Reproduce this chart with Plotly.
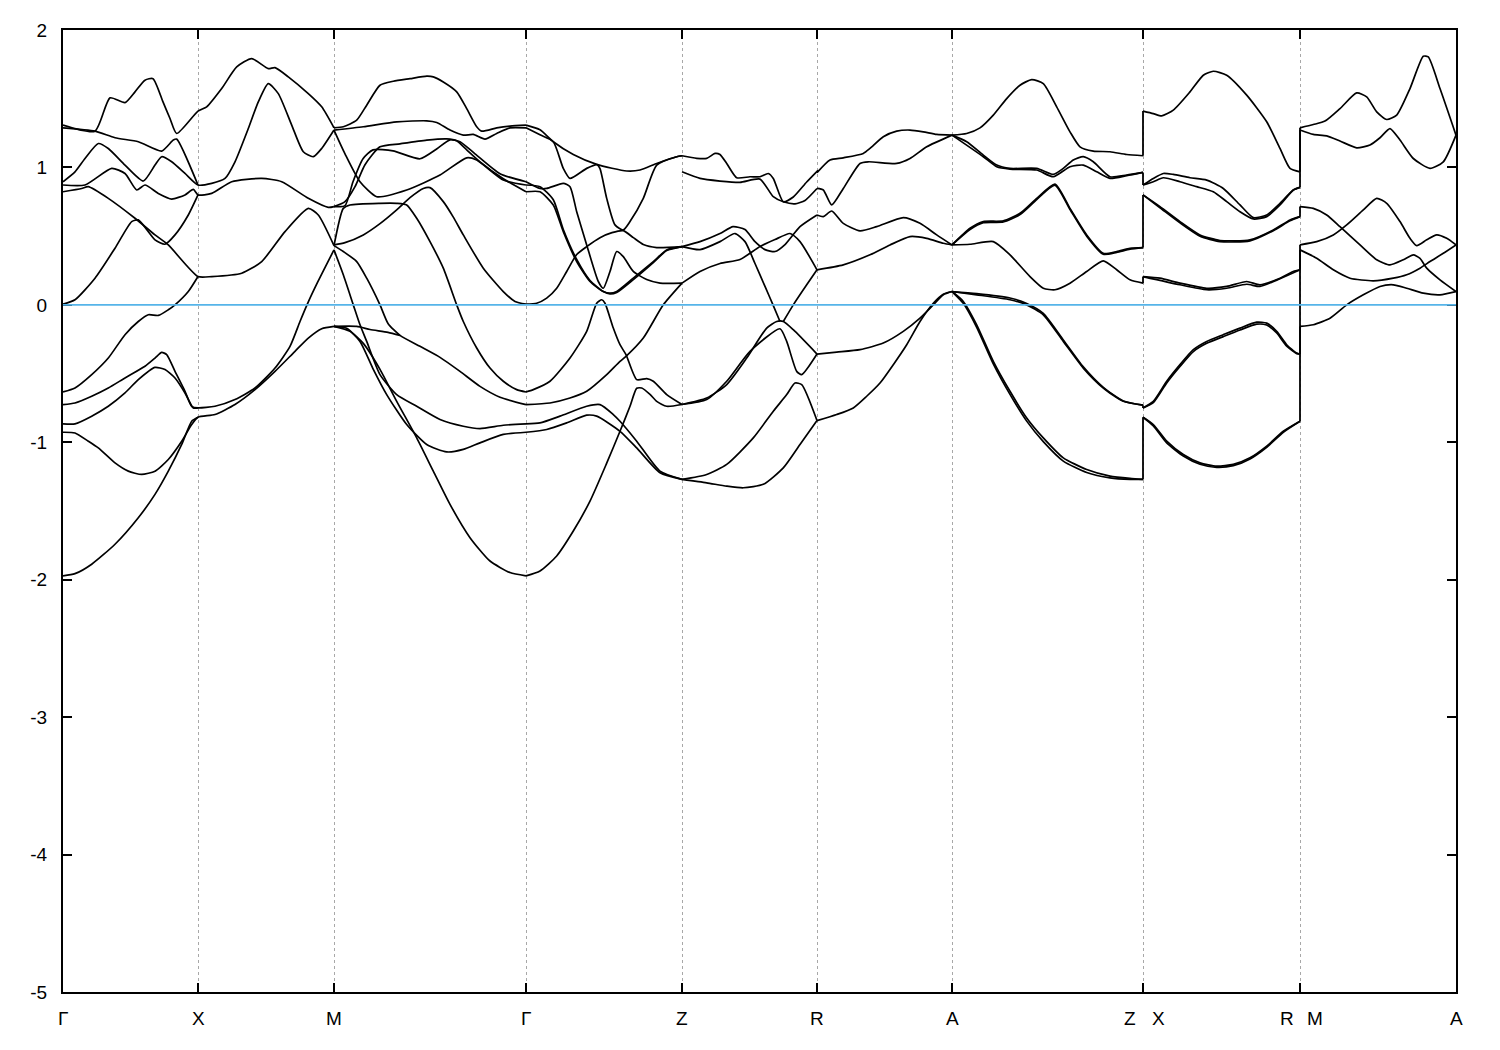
import plotly.graph_objects as go

# ---------------- high-symmetry points (path distance, arbitrary units) ----------------
hs_k = [0, 135, 271, 463, 619, 754, 889, 1080, 1237, 1393]
hs_labels = ["Γ", "X", "M", "Γ", "Z", "R", "A", "Z|X", "R|M", "A"]
y_ticks = [-5, -4, -3, -2, -1, 0, 1, 2]
fermi_level = 0.0

# ---------------- band strands (k, E in eV) ----------------
# Gamma - X - M
k_s1 = [0, 32, 47, 62, 72, 82, 90, 100, 107, 113.7, 135, 143.7, 158.7, 173.7, 188.7, 205.3, 212, 225.3, 245.3, 258.7, 271]
e_s1 = [1.308, 1.264, 1.506, 1.472, 1.550, 1.635, 1.646, 1.477, 1.356, 1.247, 1.410, 1.441, 1.574, 1.731, 1.792, 1.719, 1.726, 1.659, 1.537, 1.441, 1.288]
k_s2 = [0, 32, 52, 75.3, 98.7, 110.3, 113.7, 135]
e_s2 = [1.288, 1.264, 1.216, 1.187, 1.119, 1.199, 1.206, 0.872]
k_s3 = [0, 12, 22, 35.3, 45.3, 62, 80.3, 92, 98.7, 108.7, 122, 135, 148.7, 162, 172, 185.3, 195.3, 205.3, 215.3, 228.7, 240.3, 250.3, 258.7, 271]
e_s3 = [0.896, 0.968, 1.065, 1.174, 1.138, 1.017, 0.901, 1.017, 1.078, 1.041, 0.956, 0.872, 0.884, 0.920, 1.041, 1.283, 1.477, 1.610, 1.537, 1.308, 1.114, 1.078, 1.138, 1.272]
k_s4 = [0, 22, 48.7, 62, 73.7, 82, 95.3, 108.7, 122, 130.3, 135, 148.7, 168.7, 198.7, 218.7, 245.3, 265.3, 271]
e_s4 = [0.872, 0.872, 0.993, 0.956, 0.836, 0.872, 0.811, 0.770, 0.800, 0.840, 0.800, 0.811, 0.896, 0.920, 0.896, 0.775, 0.709, 0.715]
k_s5 = [0, 18.7, 25.3, 45.3, 72, 92, 105.3, 135, 148.7, 178.7, 198.7, 222, 245.3, 255.3, 271]
e_s5 = [0.823, 0.847, 0.860, 0.775, 0.630, 0.509, 0.436, 0.206, 0.206, 0.230, 0.315, 0.533, 0.702, 0.654, 0.431]
k_s6 = [0, 12, 32, 52, 68.7, 75.3, 92, 102, 112, 125.3, 135]
e_s6 = [0.005, 0.037, 0.194, 0.412, 0.606, 0.618, 0.473, 0.441, 0.509, 0.654, 0.800]
k_s7 = [0, 12, 28.7, 45.3, 62, 75.3, 85.3, 95.3, 105.3, 112, 125.3, 135]
e_s7 = [-0.634, -0.605, -0.508, -0.387, -0.217, -0.121, -0.072, -0.077, -0.036, 0.0, 0.097, 0.206]
k_s8 = [0, 12, 28.7, 45.3, 62, 82, 92, 98.7, 103.7, 112, 122, 128.7, 135, 152, 172, 192, 212, 227, 237, 244, 255, 271]
e_s8 = [-0.726, -0.714, -0.665, -0.605, -0.532, -0.447, -0.387, -0.346, -0.362, -0.484, -0.629, -0.738, -0.750, -0.738, -0.689, -0.605, -0.460, -0.302, -0.121, 0.0, 0.170, 0.400]
k_s9 = [0, 12, 28.7, 45.3, 62, 75.3, 92, 102, 112, 122, 130.3, 135]
e_s9 = [-0.866, -0.866, -0.810, -0.738, -0.641, -0.544, -0.455, -0.471, -0.532, -0.641, -0.750, -0.750]
k_s10 = [0, 12, 25.3, 35.3, 52, 65.3, 78.7, 92, 105.3, 118.7, 128.7, 135, 152, 172, 192, 212, 232, 245.3, 258.7, 271]
e_s10 = [-0.927, -0.932, -0.992, -1.041, -1.150, -1.210, -1.234, -1.210, -1.125, -0.992, -0.871, -0.818, -0.798, -0.725, -0.617, -0.484, -0.338, -0.242, -0.174, -0.157]
k_s11 = [0, 12, 28.7, 52, 75.3, 92, 105.3, 118.7, 128.7, 135]
e_s11 = [-1.972, -1.956, -1.887, -1.742, -1.549, -1.379, -1.210, -1.016, -0.847, -0.818]

# M - Gamma
k_m1 = [271, 280.3, 293.7, 303.7, 317, 330.3, 347, 363.7, 370.3, 380.3, 393.7, 403.7, 413.7, 418.7, 433.7, 447, 463]
e_m1 = [1.288, 1.296, 1.344, 1.453, 1.598, 1.627, 1.646, 1.664, 1.659, 1.622, 1.550, 1.428, 1.296, 1.264, 1.288, 1.301, 1.308]
k_m2 = [271, 300.3, 333.7, 363.7, 373.7, 387, 400.3, 410.3, 422, 433.7, 447, 463]
e_m2 = [1.272, 1.296, 1.332, 1.339, 1.327, 1.272, 1.235, 1.240, 1.206, 1.247, 1.288, 1.288]
k_m3 = [271, 282, 297, 313.7, 343.7, 377, 403.7, 413.7, 440.3, 463]
e_m3 = [1.272, 1.099, 0.896, 0.787, 0.836, 0.945, 1.070, 1.054, 0.908, 0.872]
k_m4 = [271, 282, 290, 300, 310, 330, 357, 374, 387, 397, 412, 437, 463]
e_m4 = [0.715, 0.722, 0.896, 1.063, 1.128, 1.121, 1.063, 1.136, 1.201, 1.187, 1.099, 0.954, 0.896]
k_m5 = [271, 282, 292, 302, 317, 337, 363.7, 383.7, 393.7, 403.7, 417, 440.3, 463]
e_m5 = [0.715, 0.751, 0.860, 1.020, 1.150, 1.172, 1.199, 1.208, 1.194, 1.128, 1.041, 0.918, 0.823]
k_m6 = [271, 282, 300.3, 317, 333.7, 347, 360.3, 367, 380.3, 390, 400.3, 420.3, 440.3, 452, 463]
e_m6 = [0.437, 0.453, 0.509, 0.591, 0.691, 0.780, 0.847, 0.853, 0.751, 0.642, 0.509, 0.267, 0.097, 0.025, 0.005]
k_m7 = [271, 280.3, 287, 317, 333.7, 343.7, 353.7, 367, 380.3, 393.7, 400.3, 413.7, 427, 440.3, 453.7, 463]
e_m7 = [0.431, 0.702, 0.727, 0.739, 0.739, 0.727, 0.630, 0.460, 0.267, 0.0, -0.121, -0.314, -0.460, -0.556, -0.617, -0.634]
k_ma = [271, 287, 300.3, 317, 333.7, 353.7, 370.3, 387, 407, 427, 447, 463]
e_ma = [-0.157, -0.193, -0.280, -0.469, -0.702, -0.968, -1.210, -1.452, -1.694, -1.864, -1.948, -1.972]
k_mb = [271, 283.7, 297, 310.3, 323.7, 343.7, 363.7, 383.7, 400.3, 417, 440.3, 463]
e_mb = [-0.157, -0.171, -0.266, -0.469, -0.653, -0.871, -1.016, -1.070, -1.052, -1.004, -0.943, -0.927]
k_mc = [271, 280.3, 290.3, 297, 303.7, 317, 333.7, 353.7, 377, 400.3, 417, 440.3, 463]
e_mc = [0.400, 0.219, 0.0, -0.145, -0.266, -0.508, -0.653, -0.738, -0.834, -0.883, -0.900, -0.876, -0.866]
k_md = [271, 280.3, 293.7, 303.7, 317, 325, 337, 357, 377, 397, 417, 437, 463]
e_md = [0.431, 0.388, 0.315, 0.194, 0.0, -0.135, -0.222, -0.302, -0.382, -0.484, -0.593, -0.672, -0.726]
k_me = [271, 293.7, 307, 325, 337]
e_me = [-0.157, -0.157, -0.179, -0.200, -0.222]

# Gamma - Z
k_t1 = [463, 477, 490.3, 510.3, 533.7, 563.7, 577, 593.7, 613.7, 619]
e_t1 = [1.308, 1.274, 1.187, 1.094, 1.022, 0.974, 0.981, 1.029, 1.078, 1.085]
k_t2 = [463, 477, 490.3, 500.3, 507, 523.7, 534, 537, 543.7, 552, 560.3, 567, 580.3, 593.7, 613.7, 619]
e_t2 = [1.288, 1.237, 1.187, 0.993, 0.920, 0.993, 1.020, 0.991, 0.775, 0.582, 0.545, 0.606, 0.775, 1.017, 1.078, 1.085]
k_g1 = [463, 477, 490.3, 500.3, 513.7, 527, 540.3, 547, 553.7, 570.3, 590.3, 603.7, 619]
e_g1 = [0.823, 0.823, 0.727, 0.533, 0.315, 0.170, 0.097, 0.085, 0.097, 0.194, 0.315, 0.400, 0.424]
e_g1b = [0.872, 0.860, 0.765, 0.548, 0.330, 0.177, 0.097, 0.079, 0.090, 0.184, 0.308, 0.395, 0.424]
k_g2 = [463, 477, 483.7, 500.3, 507, 513.7, 523.7, 535.3, 540.3, 547, 553.7, 560.3, 570.3, 583.7, 597, 619]
e_g2 = [0.896, 0.847, 0.847, 0.884, 0.860, 0.678, 0.436, 0.170, 0.121, 0.243, 0.388, 0.351, 0.243, 0.184, 0.158, 0.158]
k_g3 = [463, 473.7, 483.7, 493.7, 503.7, 513.7, 523.7, 537, 549, 560.3, 570.3, 580.3, 593.7, 619]
e_g3 = [0.005, 0.012, 0.049, 0.121, 0.243, 0.366, 0.424, 0.489, 0.526, 0.540, 0.489, 0.439, 0.417, 0.424]
k_gza = [463, 470.3, 487, 507, 523.7, 533.7, 538.7, 542, 550.3, 557, 563, 573.7, 583.7, 590.3, 603.7, 619]
e_gza = [-0.634, -0.617, -0.556, -0.387, -0.193, 0.012, 0.037, 0.012, -0.169, -0.290, -0.362, -0.544, -0.537, -0.556, -0.653, -0.725]
k_gzb = [463, 487, 507, 523.7, 543.7, 557, 563, 580.3, 600.3, 619]
e_gzb = [-0.726, -0.714, -0.678, -0.629, -0.508, -0.411, -0.375, -0.242, 0.0, 0.158]
k_gzc = [463, 477, 497, 523.7, 537, 550.3, 557, 573.7, 597, 619]
e_gzc = [-0.866, -0.859, -0.810, -0.738, -0.726, -0.798, -0.847, -0.992, -1.210, -1.270]
k_gzd = [463, 483.7, 503.7, 523.7, 533.7, 557, 573.7, 597, 619]
e_gzd = [-0.927, -0.907, -0.859, -0.803, -0.810, -0.920, -1.041, -1.222, -1.270]
k_gze = [463, 477, 493.7, 510.3, 527, 543.7, 557, 567, 573.7, 578.7, 587, 593.7, 603.7, 619]
e_gze = [-1.972, -1.936, -1.827, -1.646, -1.428, -1.152, -0.920, -0.738, -0.607, -0.605, -0.651, -0.702, -0.738, -0.725]

# Z - R
k_zr1 = [619, 633.7, 643.7, 652, 657, 663.7, 673.7, 687, 697, 705.3, 710.3, 720.3, 730.3, 743.7, 755]
e_zr1 = [1.085, 1.066, 1.066, 1.102, 1.094, 1.029, 0.925, 0.932, 0.932, 0.956, 0.920, 0.750, 0.785, 0.894, 0.979]
k_zr2 = [619, 637, 657, 677, 697, 710.3, 720.3, 732, 742, 754]
e_zr2 = [0.968, 0.920, 0.901, 0.891, 0.915, 0.787, 0.750, 0.735, 0.760, 0.847]
k_zr3 = [619, 637, 657, 670, 682, 692, 702, 712, 722, 737, 754]
e_zr3 = [0.424, 0.460, 0.519, 0.569, 0.548, 0.460, 0.402, 0.388, 0.439, 0.569, 0.654]
k_zr4 = [619, 637, 657, 672, 682, 692, 702, 710, 717]
e_zr4 = [0.424, 0.402, 0.460, 0.519, 0.460, 0.301, 0.134, 0.0, -0.121]
k_zr5 = [619, 637, 657, 677, 697, 712, 727, 737, 754]
e_zr5 = [0.158, 0.243, 0.301, 0.330, 0.424, 0.475, 0.519, 0.460, 0.255]
k_zr6 = [720.3, 730.3, 743.7, 754]
e_zr6 = [-0.121, 0.0, 0.146, 0.255]
k_zra = [619, 643.7, 663.7, 683.7, 703.7, 713.7, 720.3, 730.3, 754]
e_zra = [-0.725, -0.678, -0.580, -0.387, -0.169, -0.121, -0.121, -0.181, -0.358]
k_zrb = [619, 643.7, 663.7, 687, 717, 723.7, 733.7, 738.7, 754]
e_zrb = [-0.725, -0.689, -0.556, -0.338, -0.174, -0.266, -0.484, -0.508, -0.358]
k_zrc = [619, 643.7, 663.7, 690.3, 710.3, 723.7, 732, 738.7, 754]
e_zrc = [-1.270, -1.234, -1.161, -0.968, -0.774, -0.653, -0.569, -0.580, -0.842]
k_zrd = [619, 643.7, 663.7, 680.3, 700.3, 720.3, 737, 754]
e_zrd = [-1.270, -1.295, -1.319, -1.331, -1.306, -1.186, -1.016, -0.842]

# R - A
k_ra1 = [754, 767, 780.3, 800.3, 807, 820.3, 833.7, 847, 860.3, 873.7, 889]
e_ra1 = [0.962, 1.054, 1.070, 1.102, 1.138, 1.223, 1.264, 1.272, 1.259, 1.240, 1.235]
k_ra2 = [754, 760.3, 768.7, 780.3, 797, 805.3, 833.7, 847, 863.7, 889]
e_ra2 = [0.847, 0.836, 0.727, 0.847, 1.029, 1.041, 1.029, 1.065, 1.150, 1.235]
k_ra3 = [754, 760.3, 768.7, 780.3, 797, 813.7, 840.3, 857, 873.7, 889]
e_ra3 = [0.654, 0.642, 0.683, 0.593, 0.538, 0.569, 0.635, 0.593, 0.509, 0.436]
k_ra4 = [754, 780.3, 807, 827, 847, 863.7, 880.3, 889]
e_ra4 = [0.255, 0.291, 0.364, 0.436, 0.497, 0.484, 0.448, 0.436]
k_ra5 = [754, 773.7, 797, 820.3, 840.3, 857, 870.3, 880.3, 889]
e_ra5 = [-0.358, -0.344, -0.326, -0.278, -0.193, -0.097, 0.0, 0.073, 0.097]
k_ra6 = [754, 773.7, 790.3, 803.7, 817, 830.3, 843.7, 857, 870.3, 880.3, 889]
e_ra6 = [-0.842, -0.798, -0.750, -0.665, -0.569, -0.435, -0.290, -0.121, 0.012, 0.078, 0.097]

# A - Z
k_az1 = [889, 903.7, 917, 930.3, 943.7, 957, 968.7, 980.3, 993.7, 1007, 1017, 1030.3, 1047, 1063.7, 1080]
e_az1 = [1.235, 1.247, 1.288, 1.381, 1.501, 1.598, 1.639, 1.610, 1.441, 1.259, 1.150, 1.119, 1.114, 1.094, 1.085]
k_az2 = [889, 903.7, 920.3, 933.7, 947, 973.7, 990.3, 1000.3, 1010.3, 1020.3, 1030.3, 1047, 1063.7, 1080]
e_az2 = [1.235, 1.187, 1.090, 1.017, 0.993, 0.993, 0.949, 0.993, 1.054, 1.078, 1.041, 0.932, 0.945, 0.964]
k_az3 = [889, 920.3, 933.7, 947, 973.7, 990.3, 1007, 1020.3, 1033.7, 1047, 1063.7, 1080]
e_az3 = [1.235, 1.078, 1.005, 0.988, 0.981, 0.932, 1.005, 1.017, 0.968, 0.920, 0.940, 0.964]
k_az4 = [889, 907, 920.3, 940.3, 957, 973.7, 992, 1007, 1023.7, 1040.3, 1053.7, 1067, 1080]
e_az4 = [0.436, 0.557, 0.606, 0.611, 0.666, 0.775, 0.879, 0.702, 0.509, 0.375, 0.388, 0.412, 0.417]
e_az4b = [0.436, 0.548, 0.598, 0.603, 0.657, 0.766, 0.870, 0.694, 0.500, 0.368, 0.382, 0.405, 0.417]
k_az5 = [889, 907, 930.3, 947, 967, 980.3, 992, 1007, 1023.7, 1040.3, 1053.7, 1067, 1080]
e_az5 = [0.436, 0.441, 0.460, 0.364, 0.206, 0.121, 0.110, 0.158, 0.243, 0.320, 0.255, 0.182, 0.158]
k_az6 = [889, 900.3, 913.7, 930.3, 947, 963.7, 980.3, 1000.3, 1023.7, 1047, 1067, 1080]
e_az6 = [0.097, 0.025, -0.145, -0.411, -0.629, -0.823, -0.968, -1.113, -1.198, -1.246, -1.263, -1.270]
e_az6b = [0.097, 0.011, -0.163, -0.429, -0.651, -0.846, -0.995, -1.137, -1.220, -1.259, -1.270, -1.270]
k_az7 = [889, 913.7, 947, 963.7, 980.3, 1000.3, 1020.3, 1040.3, 1060.3, 1080]
e_az7 = [0.097, 0.073, 0.037, 0.0, -0.072, -0.266, -0.460, -0.605, -0.702, -0.730]
e_az7b = [0.097, 0.082, 0.050, 0.010, -0.062, -0.255, -0.451, -0.600, -0.699, -0.730]

# X - R
k_xr1 = [1080, 1090.3, 1098.7, 1110.3, 1127, 1140.3, 1150.3, 1163.7, 1183.7, 1203.7, 1217, 1227, 1237]
e_xr1 = [1.410, 1.392, 1.375, 1.417, 1.550, 1.671, 1.700, 1.671, 1.526, 1.332, 1.138, 0.993, 0.968]
k_xr2 = [1080, 1090.3, 1100.3, 1110.3, 1127, 1143.7, 1160.3, 1177, 1190.3, 1203.7, 1217, 1230.3, 1237]
e_xr2 = [0.872, 0.920, 0.956, 0.949, 0.925, 0.908, 0.847, 0.727, 0.635, 0.654, 0.739, 0.836, 0.855]
k_xr3 = [1080, 1090.3, 1100.3, 1117, 1133.7, 1150.3, 1163.7, 1177, 1190.3, 1203.7, 1217, 1230.3, 1237]
e_xr3 = [0.872, 0.896, 0.925, 0.896, 0.860, 0.823, 0.751, 0.678, 0.625, 0.642, 0.727, 0.836, 0.855]
k_xr4 = [1080, 1097, 1117, 1137, 1157, 1187, 1210.3, 1227, 1237]
e_xr4 = [0.800, 0.715, 0.606, 0.509, 0.468, 0.473, 0.545, 0.618, 0.642]
e_xr4b = [0.800, 0.707, 0.597, 0.500, 0.460, 0.466, 0.540, 0.612, 0.642]
k_xr5 = [1080, 1097, 1117, 1143.7, 1163.7, 1183.7, 1197, 1217, 1230.3, 1237]
e_xr5 = [0.206, 0.194, 0.158, 0.121, 0.134, 0.170, 0.146, 0.194, 0.243, 0.255]
k_xr5b = [1080, 1117, 1143.7, 1163.7, 1183.7, 1197, 1217, 1237]
e_xr5b = [0.206, 0.146, 0.110, 0.121, 0.150, 0.134, 0.190, 0.255]
k_xr6 = [1080, 1090.3, 1103.7, 1117, 1130.3, 1143.7, 1160.3, 1177, 1193.7, 1203.7, 1213.7, 1223.7, 1233.7, 1237]
e_xr6 = [-0.750, -0.702, -0.556, -0.435, -0.326, -0.266, -0.217, -0.169, -0.126, -0.133, -0.193, -0.290, -0.351, -0.358]
e_xr6b = [-0.750, -0.712, -0.568, -0.448, -0.340, -0.280, -0.231, -0.183, -0.140, -0.147, -0.205, -0.300, -0.355, -0.358]
k_xr7 = [1080, 1090.3, 1103.7, 1120.3, 1137, 1153.7, 1170.3, 1187, 1203.7, 1220.3, 1237]
e_xr7 = [-0.818, -0.871, -0.992, -1.089, -1.150, -1.174, -1.161, -1.113, -1.028, -0.920, -0.847]
e_xr7b = [-0.818, -0.880, -1.004, -1.100, -1.160, -1.182, -1.170, -1.121, -1.036, -0.927, -0.847]

# M - A
k_ma1 = [1237, 1250.3, 1262, 1277, 1293.7, 1303.7, 1313.7, 1323.7, 1333.7, 1347, 1360.3, 1365.3, 1377, 1393]
e_ma1 = [1.288, 1.312, 1.337, 1.428, 1.542, 1.513, 1.404, 1.349, 1.381, 1.574, 1.809, 1.804, 1.574, 1.235]
k_ma2 = [1237, 1250.3, 1263.7, 1277, 1293.7, 1307, 1317, 1327, 1337, 1350.3, 1367, 1380.3, 1393]
e_ma2 = [1.272, 1.240, 1.230, 1.192, 1.143, 1.163, 1.216, 1.283, 1.199, 1.065, 0.993, 1.041, 1.235]
k_ma3 = [1237, 1250.3, 1263.7, 1277, 1297, 1313.7, 1327, 1340.3, 1350.3, 1357, 1363.7, 1377, 1393]
e_ma3 = [0.715, 0.702, 0.654, 0.569, 0.436, 0.328, 0.291, 0.328, 0.364, 0.339, 0.267, 0.182, 0.097]
k_ma4 = [1237, 1253.7, 1270.3, 1283.7, 1300.3, 1313.7, 1323.7, 1337, 1347, 1353.7, 1363.7, 1373.7, 1383.7, 1393]
e_ma4 = [0.437, 0.460, 0.509, 0.582, 0.691, 0.775, 0.739, 0.606, 0.484, 0.431, 0.473, 0.509, 0.484, 0.436]
k_ma5 = [1237, 1253.7, 1270.3, 1287, 1310.3, 1330.3, 1343.7, 1357, 1367, 1380.3, 1393]
e_ma5 = [0.400, 0.339, 0.255, 0.194, 0.175, 0.194, 0.219, 0.267, 0.315, 0.375, 0.436]
k_ma6 = [1237, 1250.3, 1267, 1283.7, 1300.3, 1317, 1330.3, 1343.7, 1360.3, 1377, 1393]
e_ma6 = [-0.157, -0.145, -0.097, 0.0, 0.073, 0.134, 0.146, 0.121, 0.085, 0.073, 0.097]

# band discontinuities (same band index on both sides of the path break)
jump_zx_k = 1080
jump_z_side = [1.085, 0.964, 0.417, 0.158, -0.730, -1.270]
jump_x_side = [1.410, 0.872, 0.800, 0.206, -0.750, -0.818]
jump_rm_k = 1237
jump_r_side = [0.968, 0.855, 0.642, 0.255, -0.358, -0.847]
jump_m_side = [1.288, 1.272, 0.715, 0.437, 0.400, -0.157]

strands = [
    (k_s1, e_s1), (k_s2, e_s2), (k_s3, e_s3), (k_s4, e_s4), (k_s5, e_s5), (k_s6, e_s6),
    (k_s7, e_s7), (k_s8, e_s8), (k_s9, e_s9), (k_s10, e_s10), (k_s11, e_s11),
    (k_m1, e_m1), (k_m2, e_m2), (k_m3, e_m3), (k_m4, e_m4), (k_m5, e_m5), (k_m6, e_m6),
    (k_m7, e_m7), (k_ma, e_ma), (k_mb, e_mb), (k_mc, e_mc), (k_md, e_md), (k_me, e_me),
    (k_t1, e_t1), (k_t2, e_t2), (k_g1, e_g1), (k_g1, e_g1b), (k_g2, e_g2), (k_g3, e_g3),
    (k_gza, e_gza), (k_gzb, e_gzb), (k_gzc, e_gzc), (k_gzd, e_gzd), (k_gze, e_gze),
    (k_zr1, e_zr1), (k_zr2, e_zr2), (k_zr3, e_zr3), (k_zr4, e_zr4), (k_zr5, e_zr5), (k_zr6, e_zr6),
    (k_zra, e_zra), (k_zrb, e_zrb), (k_zrc, e_zrc), (k_zrd, e_zrd),
    (k_ra1, e_ra1), (k_ra2, e_ra2), (k_ra3, e_ra3), (k_ra4, e_ra4), (k_ra5, e_ra5), (k_ra6, e_ra6),
    (k_az1, e_az1), (k_az2, e_az2), (k_az3, e_az3), (k_az4, e_az4), (k_az4, e_az4b), (k_az5, e_az5),
    (k_az6, e_az6), (k_az6, e_az6b), (k_az7, e_az7), (k_az7, e_az7b),
    (k_xr1, e_xr1), (k_xr2, e_xr2), (k_xr3, e_xr3), (k_xr4, e_xr4), (k_xr4, e_xr4b),
    (k_xr5, e_xr5), (k_xr5b, e_xr5b), (k_xr6, e_xr6), (k_xr6, e_xr6b), (k_xr7, e_xr7), (k_xr7, e_xr7b),
    (k_ma1, e_ma1), (k_ma2, e_ma2), (k_ma3, e_ma3), (k_ma4, e_ma4), (k_ma5, e_ma5), (k_ma6, e_ma6),
]

FONT = "Liberation Sans, Arial, Helvetica, sans-serif"
fig = go.Figure()

for kk, ee in strands:
    fig.add_trace(go.Scatter(x=kk, y=ee, mode="lines",
                             line=dict(color="black", width=1.7, shape="spline", smoothing=0.6),
                             hoverinfo="skip", showlegend=False))

# vertical connectors at the path breaks
jx, jy = [], []
for kb, side_a, side_b in [(jump_zx_k, jump_z_side, jump_x_side), (jump_rm_k, jump_r_side, jump_m_side)]:
    for a, b in zip(side_a, side_b):
        jx += [kb, kb, None]
        jy += [a, b, None]
fig.add_trace(go.Scatter(x=jx, y=jy, mode="lines", line=dict(color="black", width=1.8),
                         hoverinfo="skip", showlegend=False))

fig.add_hline(y=fermi_level, line=dict(color="#56B4E9", width=1.8), layer="above")

# x labels (split combined labels at path breaks)
for kv, lab in zip(hs_k, hs_labels):
    parts = lab.split("|")
    if len(parts) == 1:
        fig.add_annotation(x=kv, y=0, xref="x", yref="paper", text=parts[0], showarrow=False,
                           yanchor="top", yshift=-14, font=dict(family=FONT, size=19, color="black"))
    else:
        for txt, sh in zip(parts, (-13, 15)):
            fig.add_annotation(x=kv, y=0, xref="x", yref="paper", text=txt, showarrow=False,
                               yanchor="top", yshift=-14, xshift=sh,
                               font=dict(family=FONT, size=19, color="black"))

fig.update_layout(
    width=1484, height=1034,
    margin=dict(l=55, r=36, t=20, b=50),
    paper_bgcolor="white", plot_bgcolor="white",
    font=dict(family=FONT, size=19, color="black"),
)
fig.update_xaxes(range=[hs_k[0], hs_k[-1]], tickvals=hs_k, ticktext=[""] * len(hs_k),
                 showgrid=True, gridcolor="#a8a8a8", griddash="dot", gridwidth=1,
                 showline=True, linecolor="black", linewidth=2, mirror="ticks",
                 ticks="inside", ticklen=9, tickwidth=1.5, tickcolor="black", zeroline=False)
fig.update_yaxes(range=[-5, 2], tickvals=y_ticks, ticktext=[str(v) for v in y_ticks],
                 showgrid=False, zeroline=False,
                 showline=True, linecolor="black", linewidth=2, mirror="ticks",
                 ticks="inside", ticklen=9, tickwidth=1.5, tickcolor="black",
                 ticklabelstandoff=10, tickfont=dict(family=FONT, size=19, color="black"))

fig.write_html("out.html")
